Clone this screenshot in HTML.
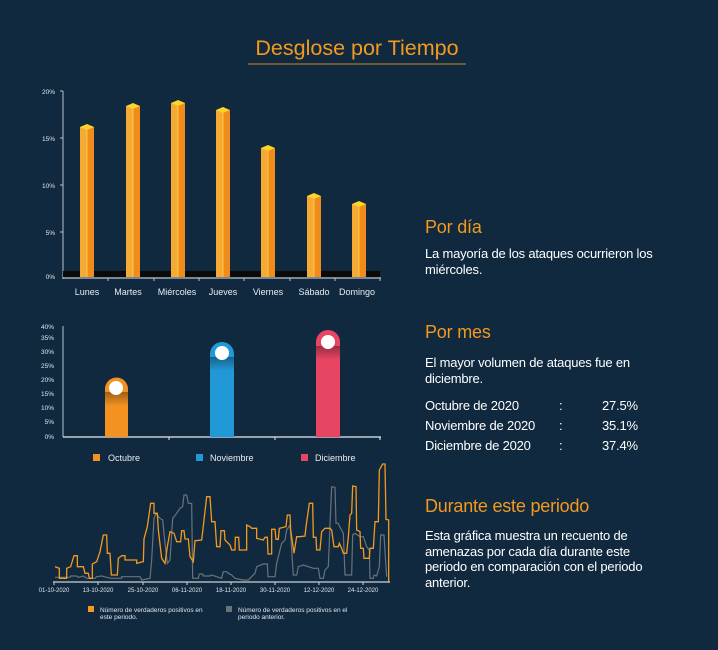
<!DOCTYPE html>
<html><head><meta charset="utf-8"><style>
html,body{margin:0;padding:0;background:#10293f;}
body{width:718px;height:650px;overflow:hidden;position:relative;font-family:"Liberation Sans",sans-serif;}
.t{position:absolute;color:#fff;font-size:13px;line-height:15.5px;letter-spacing:-0.2px;}
.h{position:absolute;color:#f39a1e;font-size:18px;letter-spacing:-0.2px;}
</style></head><body>
<svg width="718" height="650" style="position:absolute;left:0;top:0" font-family="Liberation Sans, sans-serif">
<text x="357" y="55" text-anchor="middle" fill="#f39a1e" font-size="21.5">Desglose por Tiempo</text>
<line x1="248" y1="64" x2="466" y2="64" stroke="#c7822e" stroke-width="1"/>

<g font-size="6.5" fill="#dfe6ee" text-anchor="end">
<text x="55" y="94">20%</text><text x="55" y="141">15%</text><text x="55" y="188">10%</text><text x="55" y="235">5%</text><text x="55" y="279">0%</text>
</g>
<line x1="63" y1="91" x2="63" y2="279" stroke="#b8c2cc" stroke-width="1"/>
<g stroke="#b8c2cc"><line x1="60" y1="91" x2="63" y2="91"/><line x1="60" y1="138" x2="63" y2="138"/><line x1="60" y1="185" x2="63" y2="185"/><line x1="60" y1="232" x2="63" y2="232"/></g>
<rect x="63" y="271" width="317" height="6" fill="#0b0a07"/>
<line x1="63" y1="278" x2="381" y2="278" stroke="#b8c2cc" stroke-width="1.2"/>
<g stroke="#b8c2cc"><line x1="108" y1="278" x2="108" y2="281"/><line x1="154" y1="278" x2="154" y2="281"/><line x1="199" y1="278" x2="199" y2="281"/><line x1="244" y1="278" x2="244" y2="281"/><line x1="290" y1="278" x2="290" y2="281"/><line x1="335" y1="278" x2="335" y2="281"/><line x1="380" y1="278" x2="380" y2="281"/></g>
<g id="bars"></g>
<g font-size="9" fill="#e8edf2" text-anchor="middle">
<text x="87" y="295">Lunes</text><text x="128" y="295">Martes</text><text x="177" y="295">Miércoles</text><text x="223" y="295">Jueves</text><text x="268" y="295">Viernes</text><text x="314" y="295">Sábado</text><text x="357" y="295">Domingo</text>
</g>

<g font-size="6.5" fill="#dfe6ee" text-anchor="end">
<text x="54" y="329">40%</text><text x="54" y="340">35%</text><text x="54" y="354">30%</text><text x="54" y="368">25%</text><text x="54" y="382">20%</text><text x="54" y="396">15%</text><text x="54" y="410">10%</text><text x="54" y="424">5%</text><text x="54" y="439">0%</text>
</g>
<line x1="63" y1="326" x2="63" y2="437" stroke="#b8c2cc"/>
<line x1="63" y1="437" x2="381" y2="437" stroke="#e8edf2" stroke-width="1.3"/>
<g stroke="#e8edf2"><line x1="169" y1="437" x2="169" y2="440"/><line x1="275" y1="437" x2="275" y2="440"/><line x1="380" y1="437" x2="380" y2="440"/></g>
<defs>
<linearGradient id="sh" x1="0" y1="0" x2="0" y2="1"><stop offset="0" stop-color="#000" stop-opacity="0.35"/><stop offset="1" stop-color="#000" stop-opacity="0"/></linearGradient>
</defs>
<path d="M105 437 V389 A11.5 11.5 0 0 1 128 389 V437Z" fill="#f39220"/>
<rect x="105" y="392" width="23" height="14" fill="url(#sh)"/>
<circle cx="116" cy="388" r="7" fill="#fff"/>
<path d="M210 437 V354 A12 12 0 0 1 234 354 V437Z" fill="#2199d6"/>
<rect x="210" y="357" width="24" height="14" fill="url(#sh)"/>
<circle cx="222" cy="353" r="7" fill="#fff"/>
<path d="M316 437 V342 A12 12 0 0 1 340 342 V437Z" fill="#e84563"/>
<rect x="316" y="346" width="24" height="14" fill="url(#sh)"/>
<circle cx="328" cy="342" r="7" fill="#fff"/>
<g font-size="9" fill="#e8edf2">
<rect x="93" y="454" width="7" height="7" fill="#f39220"/><text x="108" y="461">Octubre</text>
<rect x="196" y="454" width="7" height="7" fill="#2199d6"/><text x="210" y="461">Noviembre</text>
<rect x="301" y="454" width="7" height="7" fill="#e84563"/><text x="315" y="461">Diciembre</text>
</g>

<g transform="translate(30,460) scale(0.33333)" fill="none" stroke-linejoin="miter">
<polyline vector-effect="non-scaling-stroke" stroke="#6b7278" stroke-width="1.2" points="75,352 120,352 122,348 140,348 145,352 160,348 170,355 195,355 200,350 215,348 230,352 245,355 275,355 275,350 330,350 335,360 360,355 365,300 372,175 378,160 390,175 398,180 405,250 412,310 420,300 428,175 440,160 450,145 458,140 462,105 470,105 475,130 485,130 488,355 505,355 508,342 518,342 520,348 540,348 545,345 560,350 575,355 580,335 590,335 595,340 605,345 615,355 640,360 655,360 660,355 675,340 680,320 700,312 712,312 714,350 735,350 740,310 755,250 765,240 770,210 780,195 790,345 800,345 805,320 820,315 835,320 850,325 865,325 870,355 880,355 885,330 895,320 900,195 905,80 915,82 918,190 925,190 928,198 940,220 945,345 965,345 968,225 975,220 990,230 1000,230 1010,260 1018,270 1020,355 1030,355 1032,345 1040,348 1048,320 1052,225 1062,225 1065,275 1070,350"/>
<polyline vector-effect="non-scaling-stroke" stroke="#f39a1e" stroke-width="1.3" points="75,320 88,325 88,355 110,355 110,325 122,320 132,287 142,287 142,320 160,320 165,340 175,340 178,355 187,355 187,312 200,305 210,275 220,225 230,225 232,280 240,280 244,345 262,345 265,295 275,287 285,287 285,300 320,300 320,310 340,305 342,237 352,200 362,130 372,130 372,160 382,160 385,210 395,295 405,310 412,260 420,215 432,220 440,245 452,245 455,212 462,212 465,237 475,237 480,290 490,305 495,242 515,240 518,215 530,110 540,110 545,185 555,185 560,260 570,260 573,212 583,212 585,240 600,255 605,270 615,270 616,232 626,232 628,270 650,270 650,195 660,200 665,205 680,205 680,235 700,240 705,232 712,232 714,282 725,282 725,208 735,208 738,238 745,238 748,205 768,200 772,165 780,165 782,210 792,280 800,230 810,230 825,228 828,200 838,130 848,130 850,232 858,232 860,270 870,270 875,215 885,205 900,205 905,210 912,260 925,260 928,250 935,265 940,280 950,280 955,230 960,165 965,160 968,78 978,80 980,210 990,215 992,265 1000,265 1002,295 1018,295 1020,265 1030,265 1035,185 1045,185 1048,30 1058,12 1065,12 1068,178 1076,180 1076,365"/>
</g>
<line x1="53" y1="582" x2="390" y2="582" stroke="#c9d1d8" stroke-width="1.3"/>
<g stroke="#c9d1d8"><line x1="54" y1="582" x2="54" y2="585"/><line x1="98" y1="582" x2="98" y2="585"/><line x1="143" y1="582" x2="143" y2="585"/><line x1="187" y1="582" x2="187" y2="585"/><line x1="231" y1="582" x2="231" y2="585"/><line x1="275" y1="582" x2="275" y2="585"/><line x1="319" y1="582" x2="319" y2="585"/><line x1="363" y1="582" x2="363" y2="585"/></g>
<g font-size="6" fill="#dfe6ee" text-anchor="middle">
<text x="54" y="592">01-10-2020</text><text x="98" y="592">13-10-2020</text><text x="143" y="592">25-10-2020</text><text x="187" y="592">06-11-2020</text><text x="231" y="592">18-11-2020</text><text x="275" y="592">30-11-2020</text><text x="319" y="592">12-12-2020</text><text x="363" y="592">24-12-2020</text>
</g>
<g font-size="6.5" fill="#dfe6ee">
<rect x="88" y="606" width="6" height="6" fill="#f39a1e"/><text x="100" y="612">Número de verdaderos positivos en</text><text x="100" y="619">este periodo.</text>
<rect x="226" y="606" width="6" height="6" fill="#6b7278"/><text x="238" y="612">Número de verdaderos positivos en el</text><text x="238" y="619">periodo anterior.</text>
</g>
</svg>

<div class="h" style="left:425px;top:217px">Por día</div>
<div class="t" style="left:425px;top:246px">La mayoría de los ataques ocurrieron los<br>miércoles.</div>
<div class="h" style="left:425px;top:322px">Por mes</div>
<div class="t" style="left:425px;top:355px">El mayor volumen de ataques fue en<br>diciembre.</div>
<div class="t" style="left:425px;top:398px">Octubre de 2020</div><div class="t" style="left:559px;top:398px">:</div><div class="t" style="left:602px;top:398px">27.5%</div>
<div class="t" style="left:425px;top:418px">Noviembre de 2020</div><div class="t" style="left:559px;top:418px">:</div><div class="t" style="left:602px;top:418px">35.1%</div>
<div class="t" style="left:425px;top:438px">Diciembre de 2020</div><div class="t" style="left:559px;top:438px">:</div><div class="t" style="left:602px;top:438px">37.4%</div>
<div class="h" style="left:425px;top:496px">Durante este periodo</div>
<div class="t" style="left:425px;top:528px">Esta gráfica muestra un recuento de<br>amenazas por cada día durante este<br>periodo en comparación con el periodo<br>anterior.</div>

<script>
var b=[[80,124],[126,103],[171,100],[216,107],[261,145],[307,193],[352,201]];
var s='';
b.forEach(function(p){var x=p[0],t=p[1],w=14,m=x+w/2;
s+='<rect x="'+x+'" y="'+(t+3)+'" width="7" height="'+(277-t-3)+'" fill="#f5aa35"/>';
s+='<rect x="'+m+'" y="'+(t+3)+'" width="7" height="'+(277-t-3)+'" fill="#f08c1b"/>';
s+='<line x1="'+m+'" y1="'+(t+6)+'" x2="'+m+'" y2="277" stroke="#ffd84a" stroke-width="0.8"/>';
s+='<polygon points="'+x+','+(t+3)+' '+m+','+t+' '+(x+w)+','+(t+3)+' '+m+','+(t+6)+'" fill="#ffd42a"/>';});
document.getElementById('bars').innerHTML=s;
</script>
</body></html>
